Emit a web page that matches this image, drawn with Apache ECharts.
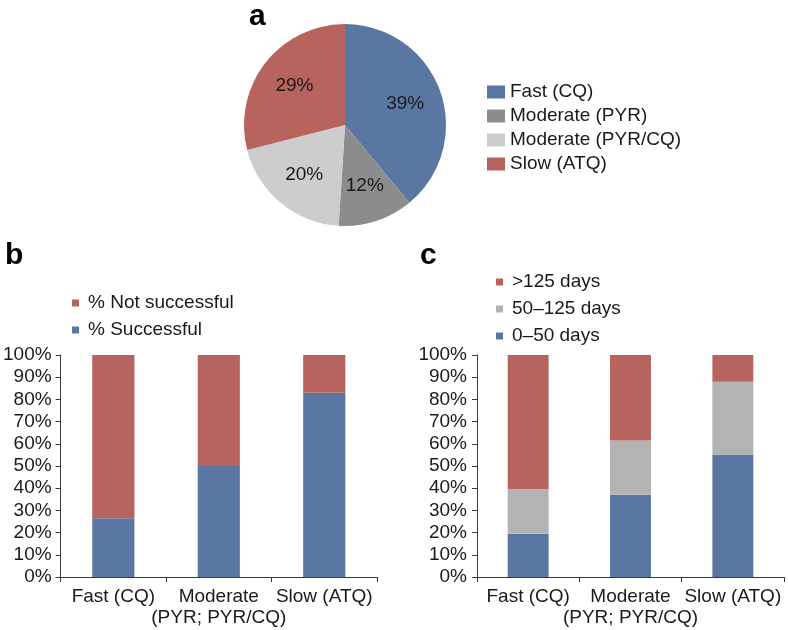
<!DOCTYPE html>
<html>
<head>
<meta charset="utf-8">
<script src="https://cdn.jsdelivr.net/npm/echarts@6/dist/echarts.min.js"></script>
<style>
html,body{margin:0;padding:0;background:#fff;}
#chart{width:788px;height:630px;}
</style>
</head>
<body>
<div id="chart"></div>
<script>
// ---- data ----
var pieNames = ['Fast (CQ)', 'Moderate (PYR)', 'Moderate (PYR/CQ)', 'Slow (ATQ)'];
var pieValues = [39, 12, 20, 29];

var categories = ['Fast (CQ)', 'Moderate\n(PYR; PYR/CQ)', 'Slow (ATQ)'];

var successful = [26.5, 50, 83];
var notSuccessful = [73.5, 50, 17];

var days0to50 = [19.5, 37, 55];
var days50to125 = [20, 24.5, 33];
var daysOver125 = [60.5, 38.5, 12];

var yMin = 0, yMax = 100, yStep = 10;

// ---- styles ----
var FONT = "'Liberation Sans', Arial, sans-serif";
var TXT = '#1a1a1a';
var BLUE = '#5a77a3';
var RED = '#b7645e';
var DGRAY = '#8c8c8c';
var LGRAY = '#cdcdcd';
var BGRAY = '#b3b3b3';
var AXIS = '#3a3a3a';

var pieData = pieNames.map(function (n, i) { return { name: n, value: pieValues[i] }; });
var pieColors = [BLUE, DGRAY, LGRAY, RED];

function yAxisCfg(gi, margin) {
  return {
    type: 'value', gridIndex: gi, min: yMin, max: yMax, interval: yStep,
    axisLine: { show: true, lineStyle: { color: AXIS, width: 1 } },
    axisTick: { show: true, length: 5, lineStyle: { color: AXIS } },
    splitLine: { show: false },
    axisLabel: { formatter: '{value}%', fontSize: 19, color: TXT, fontFamily: FONT, margin: margin }
  };
}
function xAxisCfg(gi) {
  return {
    type: 'category', gridIndex: gi, data: categories,
    axisLine: { show: true, lineStyle: { color: AXIS, width: 1 } },
    axisTick: { show: true, length: 5, alignWithLabel: false, lineStyle: { color: AXIS } },
    axisLabel: { interval: 0, fontSize: 19, lineHeight: 21.5, color: TXT, fontFamily: FONT, margin: 9, hideOverlap: false }
  };
}
function legendCfg(left, top, names, gap, w, h) {
  return {
    left: left, top: top, orient: 'vertical', itemGap: gap, itemWidth: w, itemHeight: h,
    icon: 'rect', data: names, selectedMode: false,
    textStyle: { fontSize: 19, lineHeight: 20, color: TXT, fontFamily: FONT, padding: [0, 0, 0, w < 10 ? 4 : 0] }
  };
}

var chart = echarts.init(document.getElementById('chart'), null, { renderer: 'canvas' });
chart.setOption({
  animation: false,
  backgroundColor: '#fff',
  textStyle: { fontFamily: FONT },
  title: [
    { text: 'a', left: 244, top: -3, textStyle: { fontSize: 30, fontWeight: 'bold', color: '#000', fontFamily: FONT } },
    { text: 'b', left: 0, top: 236, textStyle: { fontSize: 30, fontWeight: 'bold', color: '#000', fontFamily: FONT } },
    { text: 'c', left: 415, top: 236, textStyle: { fontSize: 30, fontWeight: 'bold', color: '#000', fontFamily: FONT } }
  ],
  legend: [
    legendCfg(482, 77, pieNames, 4, 18, 13),
    legendCfg(67, 288, ['% Not successful', '% Successful'], 7, 7, 7),
    legendCfg(491, 267, ['>125 days', '50\u2013125 days', '0\u201350 days'], 7, 7, 7)
  ],
  grid: [
    { left: 59, top: 355, width: 318, height: 222, containLabel: false },
    { left: 477, top: 355, width: 307, height: 222, containLabel: false }
  ],
  xAxis: [xAxisCfg(0), xAxisCfg(1)],
  yAxis: [yAxisCfg(0, 9), yAxisCfg(1, 10)],
  series: [
    {
      type: 'pie', center: [345, 125], radius: 101, startAngle: 90, clockwise: true,
      data: pieData, label: { show: false }, labelLine: { show: false },
      color: pieColors, itemStyle: { borderWidth: 0 }, emphasis: { disabled: true }, silent: true
    },
    {
      type: 'pie', center: [345, 125], radius: [21, 101], startAngle: 90, clockwise: true,
      data: pieData,
      itemStyle: { color: 'rgba(0,0,0,0)', borderWidth: 0 }, emphasis: { disabled: true }, silent: true, legendHoverLink: false,
      label: { show: true, position: 'inside', formatter: '{c}%', fontSize: 19, color: TXT, fontFamily: FONT, textBorderWidth: 0 },
      labelLine: { show: false }
    },
    { name: '% Successful', type: 'bar', stack: 'b', xAxisIndex: 0, yAxisIndex: 0, data: successful, barWidth: '40%', itemStyle: { color: BLUE } },
    { name: '% Not successful', type: 'bar', stack: 'b', xAxisIndex: 0, yAxisIndex: 0, data: notSuccessful, barWidth: '40%', itemStyle: { color: RED } },
    { name: '0\u201350 days', type: 'bar', stack: 'c', xAxisIndex: 1, yAxisIndex: 1, data: days0to50, barWidth: '40%', itemStyle: { color: BLUE } },
    { name: '50\u2013125 days', type: 'bar', stack: 'c', xAxisIndex: 1, yAxisIndex: 1, data: days50to125, barWidth: '40%', itemStyle: { color: BGRAY } },
    { name: '>125 days', type: 'bar', stack: 'c', xAxisIndex: 1, yAxisIndex: 1, data: daysOver125, barWidth: '40%', itemStyle: { color: RED } }
  ]
});
</script>
</body>
</html>
